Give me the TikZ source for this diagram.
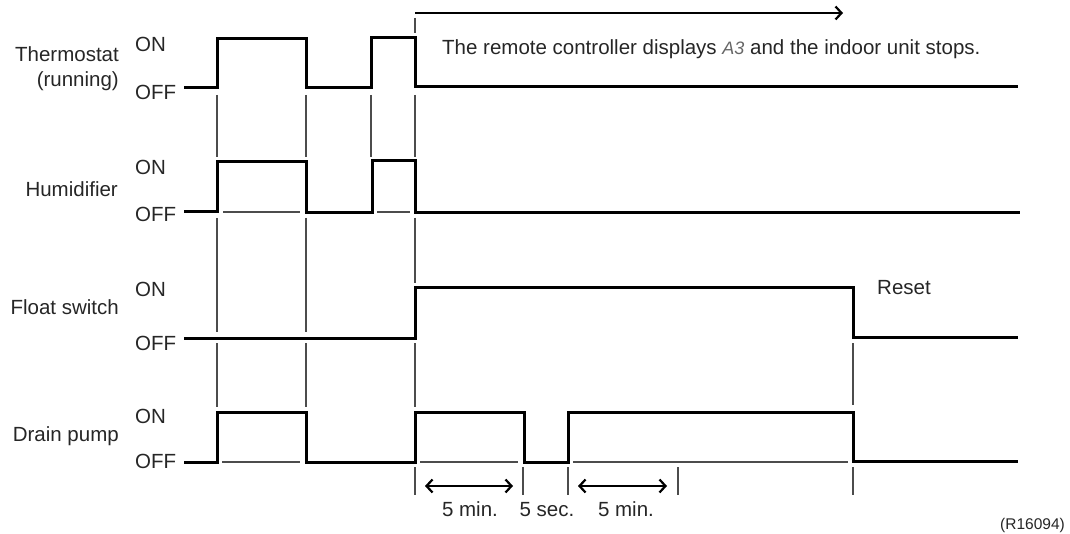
\documentclass[tikz,border=0pt]{standalone}
\usepackage{fontspec}
\setmainfont{Liberation Sans}
\usetikzlibrary{arrows.meta}
\definecolor{txt}{HTML}{262626}
\begin{document}
\begin{tikzpicture}[x=1pt,y=-1pt,
  sig/.style={line width=3pt,black,line join=miter,line cap=butt},
  guide/.style={line width=1.1pt,black!70},
  lbl/.style={font=\fontsize{20.5}{24}\selectfont,text=txt,inner sep=0pt},
  small/.style={font=\fontsize{15.5}{18}\selectfont,text=txt,inner sep=0pt},
  barb/.tip={Straight Barb[length=6pt,width=13pt,line width=2.2pt]},
  timearrow/.style={line width=2.2pt,-{barb}},
  dimarrow/.style={line width=2.2pt,{barb}-{barb}}]
\useasboundingbox (0,0) rectangle (1070,534);

% left labels
\node[lbl,anchor=base east] (thermo) at (119,62) {Thermostat};
\node[lbl,anchor=base east] (running) at (119,87) {(running)};
\node[lbl,anchor=base east] (humid) at (118,197) {Humidifier};
\node[lbl,anchor=base east] (float) at (119,315) {Float switch};
\node[lbl,anchor=base east] (drain) at (119,441) {Drain pump};

\node[lbl,anchor=base west] (on1) at (135,52) {ON};
\node[lbl,anchor=base west] (off1) at (135,100) {OFF};
\node[lbl,anchor=base west] (on2) at (135,175) {ON};
\node[lbl,anchor=base west] (off2) at (135,222) {OFF};
\node[lbl,anchor=base west] (on3) at (135,297) {ON};
\node[lbl,anchor=base west] (off3) at (135,350) {OFF};
\node[lbl,anchor=base west] (on4) at (135,423) {ON};
\node[lbl,anchor=base west] (off4) at (135,468) {OFF};

% message and time arrow
\coordinate (arrS) at (415,13);
\coordinate (arrE) at (843,13);
\draw[timearrow] (arrS) -- (arrE);
\node[lbl,anchor=base west] (msg) at (442,55) {The remote controller displays {\fontsize{18}{18}\selectfont\itshape\color{black!60}A3} and the indoor unit stops.};
\node[lbl,anchor=base west] (reset) at (877,295) {Reset};
\node[small,anchor=base east] (ref) at (1065,529) {(R16094)};

% waveforms
\draw[sig] (184,88) -- (217,88) -- (217,39) -- (306,39) -- (306,88) -- (371,88) -- (371,38) -- (415,38) -- (415,87) -- (1018,87);
\draw[sig] (184,212) -- (217,212) -- (217,162) -- (306,162) -- (306,213) -- (372,213) -- (372,161) -- (415,161) -- (415,213) -- (1020,213);
\draw[sig] (184,338) -- (415,338) -- (415,288) -- (853,288) -- (853,337) -- (1018,337);
\draw[sig] (184,462) -- (217,462) -- (217,412) -- (306,412) -- (306,462) -- (415,462) -- (415,412) -- (524,412) -- (524,462) -- (568,462) -- (568,412) -- (853,412) -- (853,461) -- (1018,461);

% guide lines
\draw[guide] (415,18) -- (415,33);
\foreach \x in {217,306,371,415} \draw[guide] (\x,95) -- (\x,157);
\foreach \x in {217,306} {\draw[guide] (\x,218) -- (\x,332); \draw[guide] (\x,343) -- (\x,407);}
\draw[guide] (415,218) -- (415,283);
\draw[guide] (415,343) -- (415,407);
\draw[guide] (853,343) -- (853,405);
\foreach \x in {415,523,568,678,853} \draw[guide] (\x,467) -- (\x,495);
% baselines inside pulses
\draw[guide] (223,212) -- (300,212);
\draw[guide] (377,212) -- (410,212);
\draw[guide] (222,462) -- (300,462);
\draw[guide] (420,462) -- (518,462);
\draw[guide] (573,462) -- (848,462);

% durations
\coordinate (d1a) at (425,486);
\coordinate (d1b) at (513,486);
\coordinate (d2a) at (578,486);
\coordinate (d2b) at (667,486);
\draw[dimarrow] (d1a) -- (d1b);
\draw[dimarrow] (d2a) -- (d2b);
\node[lbl,anchor=base] (t1) at (470,516) {5 min.};
\node[lbl,anchor=base] (t2) at (547,516) {5 sec.};
\node[lbl,anchor=base] (t3) at (626,516) {5 min.};
\end{tikzpicture}
\end{document}
